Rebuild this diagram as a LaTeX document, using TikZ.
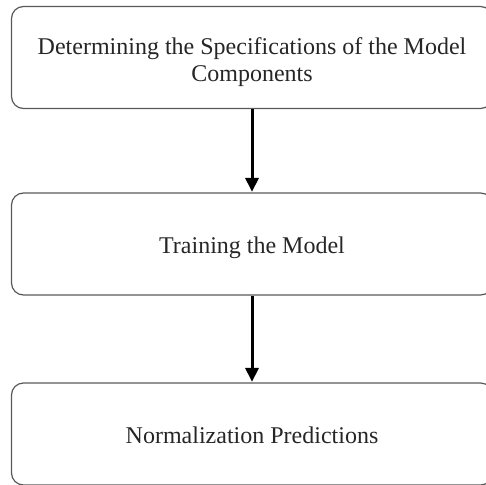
\documentclass[tikz,border=0pt]{standalone}
\usepackage{fontspec}
\setmainfont{Liberation Serif}
\usetikzlibrary{arrows.meta}
\begin{document}
\begin{tikzpicture}[x=1pt,y=-1pt,
  stagebox/.style={draw=black!65, line width=1.2pt, rounded corners=12pt,
    minimum width=481pt, minimum height=102pt, inner sep=0pt,
    align=center, text=black!85,
    font=\fontsize{24}{27}\selectfont},
  stagetext/.style={align=center, text=black!85, inner sep=0pt,
    font=\fontsize{24}{27}\selectfont},
  flowarrow/.style={line width=3pt, black,
    -{Triangle[length=14pt,width=13pt]}, shorten >=0.5pt}]
  \useasboundingbox (0,0) rectangle (486,484);
  \clip (0,0) rectangle (486,484);
  % the three stage boxes
  \node[stagebox] (spec)  at (252,57.5) {};
  \node[stagebox] (train) at (252,244)  {};
  \node[stagebox] (norm)  at (252,434)  {};
  % their labels
  \node[stagetext] (specl)  at ([yshift=-5pt]spec.center) {Determining the Specifications of the Model\\Components};
  \node[stagetext] (trainl) at ([yshift=-4pt]train.center) {Training the Model};
  \node[stagetext] (norml)  at ([yshift=-1pt]norm.center) {Normalization Predictions};
  % connectors
  \draw[flowarrow] (spec.south) -- (train.north);
  \draw[flowarrow] (train.south) -- (norm.north);
\end{tikzpicture}
\end{document}
